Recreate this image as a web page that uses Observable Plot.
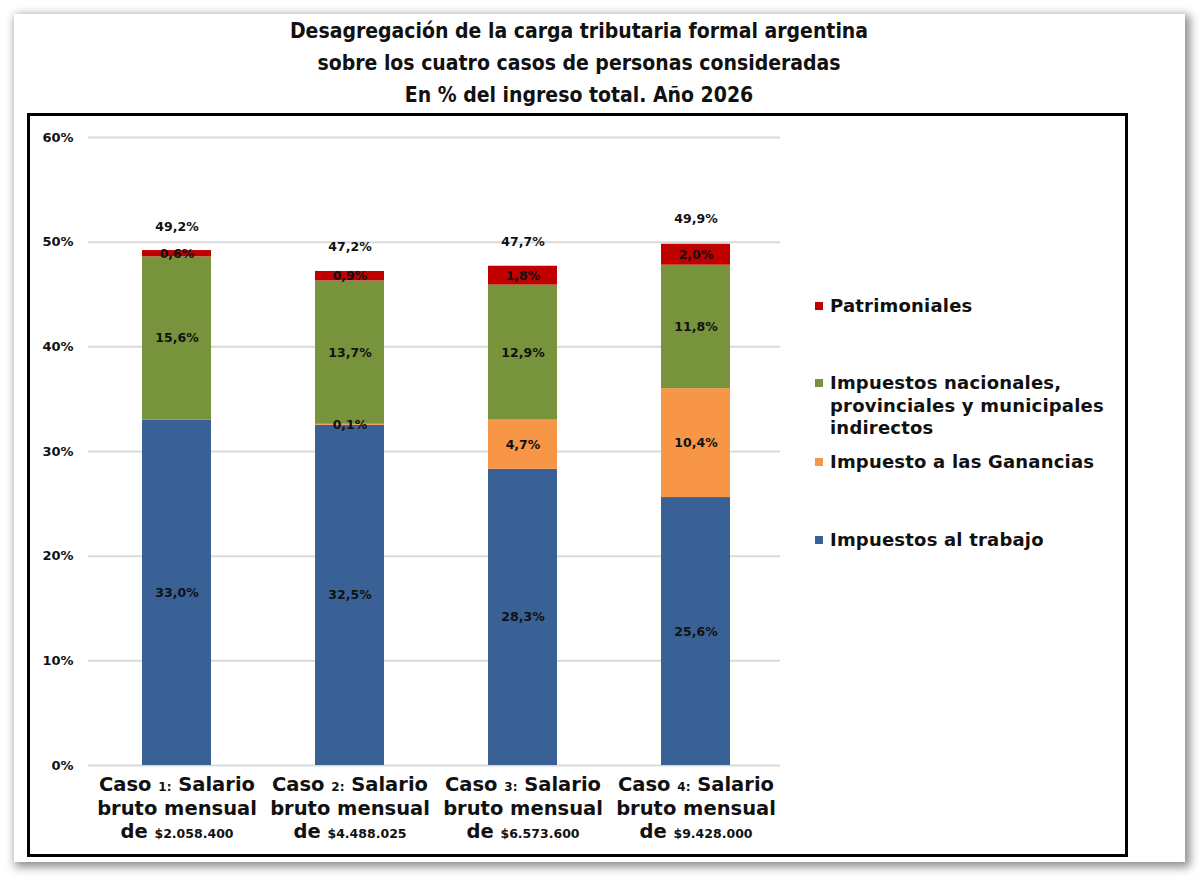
<!DOCTYPE html>
<html><head><meta charset="utf-8">
<script src="https://cdn.jsdelivr.net/npm/d3@7"></script>
<script src="https://cdn.jsdelivr.net/npm/@observablehq/plot@0.6"></script>
<style>
html,body{margin:0;padding:0;background:#fff}
body{width:1200px;height:877px;position:relative;overflow:hidden;font-family:"DejaVu Sans",sans-serif}
#paper{position:absolute;left:14px;top:14px;width:1171px;height:848px;background:#fff;box-shadow:3px 3px 9px 2px rgba(0,0,0,0.45)}
#title{position:absolute;left:27px;width:1104px;top:15px;text-align:center;font-family:"DejaVu Sans Condensed","DejaVu Sans",sans-serif;font-weight:bold;font-size:21px;line-height:32px;color:#111}
#box{position:absolute;left:27px;top:113px;width:1095px;height:738px;border:3px solid #000}
#chart{position:absolute;left:30px;top:116px}
.leg{position:absolute;left:815px;font-family:"DejaVu Sans",sans-serif;font-weight:bold;font-size:18px;line-height:22.5px;color:#111;letter-spacing:0.2px}
.leg .sw{position:absolute;left:0;top:7px;width:8px;height:8px}
.leg .tx{margin-left:15px;white-space:nowrap}
</style></head>
<body>
<div id="paper"></div>
<div id="title">Desagregación de la carga tributaria formal argentina<br>sobre los cuatro casos de personas consideradas<br>En % del ingreso total. Año 2026</div>
<div id="box"></div>
<div id="chart"></div>
<div id="legend"></div>
<script>
const casos = ["Caso 1", "Caso 2", "Caso 3", "Caso 4"];
const casoNum = ["1:", "2:", "3:", "4:"];
const salarios = ["$2.058.400", "$4.488.025", "$6.573.600", "$9.428.000"];
const series = ["Impuestos al trabajo", "Impuesto a las Ganancias", "Impuestos nacionales, provinciales y municipales indirectos", "Patrimoniales"];
const colors = ["#3a6195", "#f79646", "#77933c", "#c00000"];
const trabajo = [33.0, 32.5, 28.3, 25.6];
const ganancias = [0.0, 0.1, 4.7, 10.4];
const indirectos = [15.6, 13.7, 12.9, 11.8];
const patrimoniales = [0.6, 0.9, 1.8, 2.0];
const totales = [49.2, 47.2, 47.7, 49.9];
const yTicks = [0, 10, 20, 30, 40, 50, 60];

const seriesValues = [trabajo, ganancias, indirectos, patrimoniales];
const data = [];
casos.forEach((c, i) => series.forEach((s, j) => data.push({caso: c, serie: s, value: seriesValues[j][i]})));
const totalData = casos.map((c, i) => ({caso: c, total: totales[i]}));
const fmt = v => v.toFixed(1).replace(".", ",") + "%";

const plot = Plot.plot({
  width: 1095, height: 738,
  marginLeft: 58, marginRight: 345, marginTop: 21, marginBottom: 89,
  x: {domain: casos, range: [60, 752], paddingInner: 0.6, paddingOuter: 0.3, axis: null},
  y: {domain: [0, 60], axis: null},
  color: {domain: series, range: colors},
  style: {fontFamily: "DejaVu Sans, sans-serif", fontWeight: "bold", color: "#111", background: "transparent"},
  marks: [
    Plot.ruleY(yTicks, {stroke: "#d9d9d9", strokeWidth: 2}),
    Plot.axisY(yTicks, {tickSize: 0, tickPadding: 15, tickFormat: d => d + "%", fontSize: 13, fontWeight: "bold", label: null}),
    Plot.axisX({tickSize: 0, tickPadding: 9, fontSize: 19.5, lineHeight: 1.2, fontWeight: "bold", label: null,
      tickFormat: (d) => { const i = casos.indexOf(d); return "Caso " + casoNum[i] + " Salario\nbruto mensual\nde " + salarios[i]; }}),
    Plot.barY(data, {x: "caso", y: "value", z: "serie", fill: "serie", order: series}),
    Plot.text(data.filter(d => d.value > 0), Plot.stackY({x: "caso", y: "value", z: "serie", order: series, text: d => fmt(d.value), fill: "#111", fontSize: 12.5, fontWeight: "bold"})),
    Plot.text(totalData, {x: "caso", y: "total", text: d => fmt(d.total), dy: -24, fill: "#111", fontSize: 12.5, fontWeight: "bold"})
  ]
});
document.getElementById("chart").appendChild(plot);

// mixed font sizes in the x tick labels
d3.select(plot).selectAll('g[aria-label="x-axis tick label"] text').each(function(_, i) {
  const tspans = d3.select(this).selectAll("tspan").nodes();
  if (tspans.length >= 3) {
    const t0 = d3.select(tspans[0]); t0.text("");
    t0.append("tspan").text("Caso ");
    t0.append("tspan").attr("font-size", 12).text(casoNum[i]);
    t0.append("tspan").text(" Salario");
    const t2 = d3.select(tspans[2]); t2.text("");
    t2.append("tspan").text("de ");
    t2.append("tspan").attr("font-size", 12.5).text(salarios[i]);
  }
});

// legend
const legTops = {"Patrimoniales": 295, "Impuestos nacionales, provinciales y municipales indirectos": 372, "Impuesto a las Ganancias": 451, "Impuestos al trabajo": 529};
const legLabels = {"Impuestos nacionales, provinciales y municipales indirectos": "Impuestos nacionales,<br>provinciales y municipales<br>indirectos"};
const leg = document.getElementById("legend");
series.forEach((s, j) => {
  const div = document.createElement("div");
  div.className = "leg";
  div.style.top = legTops[s] + "px";
  div.innerHTML = `<span class="sw" style="background:${colors[j]}"></span><div class="tx">${legLabels[s] || s}</div>`;
  leg.appendChild(div);
});
</script>
</body></html>
